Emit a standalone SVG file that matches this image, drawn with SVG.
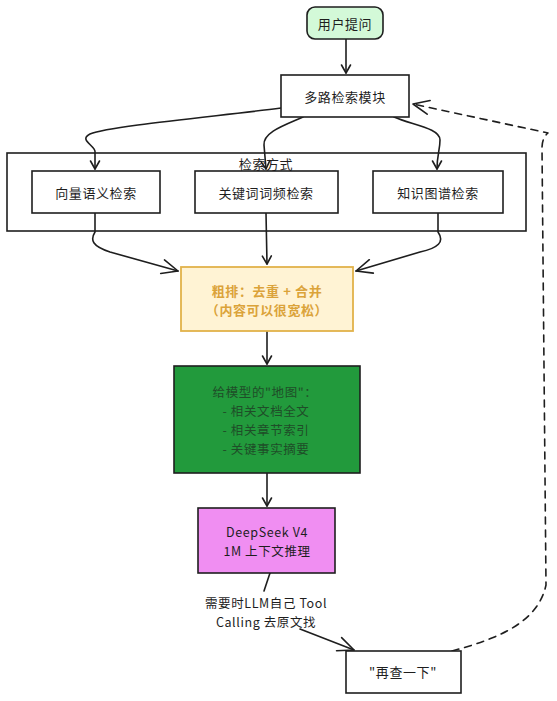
<svg xmlns="http://www.w3.org/2000/svg" width="557" height="701" viewBox="0 0 557 701">
<style>
  .box { fill: #ffffff; stroke: #1e1e1e; stroke-width: 1.6; }
  .t { font-family: "Noto Sans CJK SC", "Noto Sans", "DejaVu Sans", sans-serif; font-size: 13px; fill: #1e1e1e; text-anchor: middle; dominant-baseline: central; letter-spacing: 0.6px; }
  .sm { font-size: 12.5px; }
  .edge { fill: none; stroke: #1e1e1e; stroke-width: 1.6; stroke-linecap: round; stroke-linejoin: round; }
  .s { marker-end: url(#arrS); }
  .l { marker-end: url(#arrL); }
</style>
<defs>
  <marker id="arrS" markerUnits="userSpaceOnUse" markerWidth="14" markerHeight="14" refX="10" refY="6" orient="auto">
    <path d="M2,1.5 L10,6 L2,10.5" fill="none" stroke="#1e1e1e" stroke-width="1.6" stroke-linecap="round" stroke-linejoin="round"/>
  </marker>
  <marker id="arrL" markerUnits="userSpaceOnUse" markerWidth="22" markerHeight="18" refX="18" refY="9" orient="auto">
    <path d="M2,2 L18,9 L2,16" fill="none" stroke="#1e1e1e" stroke-width="1.6" stroke-linecap="round" stroke-linejoin="round"/>
  </marker>
</defs>

<g id="group-retrieval">
  <rect x="7" y="153" width="519" height="78" fill="#ffffff" stroke="#1e1e1e" stroke-width="1.6"/>
  <text class="t" x="266" y="163">检索方式</text>
</g>

<g id="connectors">
  <path class="edge s" d="M346,39 L346,73"/>
  <path class="edge s" d="M281,108 C 220,116 110,126 90,134 C 78,140 96,146 95,152 L95,169"/>
  <path class="edge s" d="M303,117 C 285,125 263,132 264,145 L266,169"/>
  <path class="edge s" d="M394,117 C 412,125 440,128 440,140 C 440,150 437,155 437,169"/>
  <path class="edge l" d="M95,213 L95,232 C 90,240 92,246 110,252 L178,271"/>
  <path class="edge s" d="M266,213 L267,264"/>
  <path class="edge l" d="M438,213 L438,232 C 445,242 438,248 420,252 L356,271"/>
  <path class="edge s" d="M267,331 L267,364"/>
  <path class="edge s" d="M267,473 L267,506"/>
  <path class="edge" d="M270,573 L264,591"/>
  <path class="edge l" d="M300,629 L354,650"/>
  <path class="edge l" stroke-dasharray="7 6" d="M452,651 C 500,638 538,622 546,585 L542,148 Q542,138 548,133 L413,104"/>
</g>

<g id="node-user">
  <rect x="307" y="7" width="76" height="32" rx="8" fill="#d3f9d8" stroke="#1e1e1e" stroke-width="1.6"/>
  <text class="t" x="345" y="23">用户提问</text>
</g>

<g id="node-multi">
  <rect class="box" x="281" y="75" width="128" height="42"/>
  <text class="t" x="345" y="96">多路检索模块</text>
</g>

<g id="node-vector">
  <rect class="box" x="32" y="171" width="128" height="42"/>
  <text class="t" x="96" y="192">向量语义检索</text>
</g>

<g id="node-keyword">
  <rect class="box" x="195" y="171" width="143" height="42"/>
  <text class="t" x="266" y="192">关键词词频检索</text>
</g>

<g id="node-kg">
  <rect class="box" x="373" y="171" width="130" height="42"/>
  <text class="t" x="438" y="192">知识图谱检索</text>
</g>

<g id="node-rough">
  <rect x="181" y="267" width="172" height="64" fill="#fff3d4" stroke="#e2b24a" stroke-width="1.8"/>
  <text class="t" x="267" y="290" style="fill:#dba33a;font-weight:bold">粗排：去重 + 合并</text>
  <text class="t" x="267" y="309" style="fill:#dba33a;font-weight:bold">（内容可以很宽松）</text>
</g>

<g id="node-map">
  <rect x="174" y="366" width="186" height="107" fill="#229a3c" stroke="#1e1e1e" stroke-width="1.6"/>
  <text class="t sm" x="265" y="391" style="fill:#1f4d28">给模型的"地图"：</text>
  <text class="t sm" x="266" y="410" style="fill:#1f4d28">- 相关文档全文</text>
  <text class="t sm" x="266" y="429" style="fill:#1f4d28">- 相关章节索引</text>
  <text class="t sm" x="266" y="448" style="fill:#1f4d28">- 关键事实摘要</text>
</g>

<g id="node-deepseek">
  <rect x="198" y="508" width="137" height="65" fill="#f08ef2" stroke="#1e1e1e" stroke-width="1.6"/>
  <text class="t sm" x="267" y="531">DeepSeek V4</text>
  <text class="t sm" x="267" y="550">1M 上下文推理</text>
</g>

<g id="edge-label">
  <text class="t sm" x="266" y="602">需要时LLM自己 Tool</text>
  <text class="t sm" x="266" y="621">Calling 去原文找</text>
</g>

<g id="node-requery">
  <rect class="box" x="346" y="651" width="115" height="42"/>
  <text class="t" x="403" y="671">"再查一下"</text>
</g>
</svg>
